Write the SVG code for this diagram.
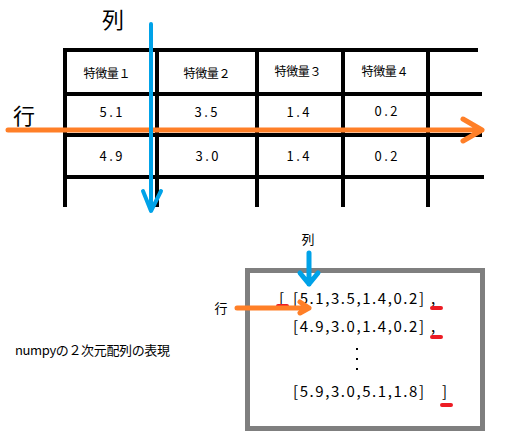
<svg xmlns="http://www.w3.org/2000/svg" width="510" height="442" viewBox="0 0 510 442">
<style>
.grid{stroke:#000;stroke-width:4;fill:none;stroke-linecap:butt}
.t{font-family:"Noto Sans CJK JP","Liberation Sans",sans-serif;fill:#000;text-anchor:middle;dominant-baseline:central}
.h{font-size:12px}
.v{font-size:13px}
.m{font-size:15px;text-anchor:start}
.cap{font-size:13px;text-anchor:start}
.blue{stroke:#00A2E8;fill:none;stroke-linecap:round;stroke-linejoin:round}
.orange{stroke:#FF7F27;fill:none;stroke-linecap:round;stroke-linejoin:round}
.red{stroke:#ED1C24;stroke-width:4;stroke-linecap:round}
</style>
<rect width="510" height="442" fill="#fff"/>
<g id="table">
<path class="grid" d="M63 50H478M63 94H482M63 135H482M63 177H484M65 48V207M157 48V207M257 48V207M343 48V207M428 48V207"/>
<text class="t h" x="107" y="72" textLength="47">特徴量１</text>
<text class="t h" x="207" y="72" textLength="47">特徴量２</text>
<text class="t h" x="298" y="70" textLength="47">特徴量３</text>
<text class="t h" x="385" y="70" textLength="47">特徴量４</text>
<text class="t v" x="111" y="111" textLength="23">5.1</text>
<text class="t v" x="206" y="111" textLength="23">3.5</text>
<text class="t v" x="298" y="111" textLength="23">1.4</text>
<text class="t v" x="386" y="110" textLength="23">0.2</text>
<text class="t v" x="111" y="155" textLength="23">4.9</text>
<text class="t v" x="207" y="155" textLength="23">3.0</text>
<text class="t v" x="298" y="155" textLength="23">1.4</text>
<text class="t v" x="386" y="155" textLength="23">0.2</text>
</g>
<g id="labels">
<text class="t" x="113" y="18" font-size="22">列</text>
<text class="t" x="24" y="114" font-size="22">行</text>
</g>
<g id="connectors">
<path class="orange" stroke-width="5" d="M8 130H482M463 119L482 130L463 141"/>
<path class="blue" stroke-width="4" d="M151 24V211M143 191L151 211L161 191"/>
</g>
<g id="array-box">
<rect x="247.5" y="270.5" width="235" height="158" fill="#fff" stroke="#7F7F7F" stroke-width="5"/>
<text class="t m" x="279" y="297">[</text>
<text class="t m" x="293" y="297" textLength="131">[5.1,3.5,1.4,0.2]</text>
<text class="t m" x="431" y="297">,</text>
<text class="t m" x="293" y="325" textLength="131">[4.9,3.0,1.4,0.2]</text>
<text class="t m" x="431" y="325">,</text>
<text class="t m" x="293" y="390" textLength="131">[5.9,3.0,5.1,1.8]</text>
<text class="t m" x="442" y="390">]</text>
<rect x="356" y="348" width="2" height="2" fill="#000"/>
<rect x="356" y="358" width="2" height="2" fill="#000"/>
<rect x="356" y="368" width="2" height="2" fill="#000"/>
<path class="red" d="M278 306H287M432 308H441M432 337H441M442 405H451"/>
</g>
<g id="small-arrows">
<text class="t" x="308" y="238" font-size="13">列</text>
<text class="t" x="221" y="307" font-size="13">行</text>
<path class="blue" stroke-width="5" d="M309 253V284M300 273L309 284L318 273"/>
<path class="orange" stroke-width="5" d="M237 308H309M300 302L309 308L300 313"/>
</g>
<g id="caption">
<text class="t cap" x="15" y="349" textLength="155">numpyの２次元配列の表現</text>
</g>
</svg>
